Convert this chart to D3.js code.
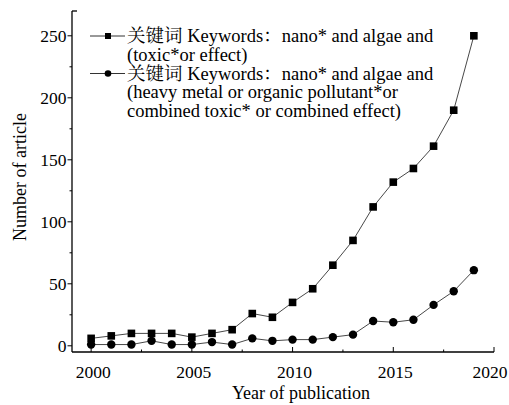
<!DOCTYPE html>
<html><head><meta charset="utf-8">
<script src="https://cdn.jsdelivr.net/npm/d3@7"></script>
<style>
html,body{margin:0;padding:0;background:#fff;}
</style></head>
<body><svg id="c" width="509" height="405"></svg>
<script>
const years = [2000,2001,2002,2003,2004,2005,2006,2007,2008,2009,2010,2011,2012,2013,2014,2015,2016,2017,2018,2019];
const series1 = [6,8,10,10,10,7,10,13,26,23,35,46,65,85,112,132,143,161,190,250];
const series2 = [1,1,1,4,1,1,3,1,6,4,5,5,7,9,20,19,21,33,44,61];
const yTicks = [0,50,100,150,200,250];
const xTicks = [2000,2005,2010,2015,2020];
const legendLines1 = ["关键词 Keywords：nano* and algae and","(toxic*or effect)"];
const legendLines2 = ["关键词 Keywords：nano* and algae and","(heavy metal or organic pollutant*or","combined toxic* or combined effect)"];

const FONT = "Liberation Serif, Noto Serif CJK SC, serif";
const svg = d3.select("#c");
const L=72, R=494, T=11, B=352;
const x = d3.scaleLinear().domain([1999.05,2020]).range([L,R]);
const y = d3.scaleLinear().domain([-5,270]).range([B,T]);

function txt(sel){ return sel.append("text").attr("font-family",FONT); }

// axes spines
svg.append("line").attr("x1",L).attr("x2",L).attr("y1",T).attr("y2",B).attr("stroke","#000").attr("stroke-width",1.3);
svg.append("line").attr("x1",L).attr("x2",R).attr("y1",B).attr("y2",B).attr("stroke","#000").attr("stroke-width",1.3);
svg.append("line").attr("x1",L).attr("x2",L+5).attr("y1",T).attr("y2",T).attr("stroke","#000").attr("stroke-width",1.3);

// y ticks (outward)
const yMinor = d3.range(25,270,50);
svg.selectAll(".ymin").data(yMinor).enter().append("line")
  .attr("x1",L-2.5).attr("x2",L).attr("y1",d=>y(d)).attr("y2",d=>y(d)).attr("stroke","#000");
svg.selectAll(".ymaj").data(yTicks).enter().append("line")
  .attr("x1",L-4.5).attr("x2",L).attr("y1",d=>y(d)).attr("y2",d=>y(d)).attr("stroke","#000");
svg.selectAll(".ylab").data(yTicks).enter().append("text").attr("font-family",FONT)
  .attr("x",L-5.5).attr("y",d=>y(d)+6).attr("text-anchor","end").attr("font-size",17.5).text(d=>d);

// x ticks (inward)
const xMinor = [2002.5,2007.5,2012.5,2017.5];
svg.selectAll(".xmin").data(xMinor).enter().append("line")
  .attr("x1",d=>x(d)).attr("x2",d=>x(d)).attr("y1",B).attr("y2",B-2.5).attr("stroke","#000");
svg.selectAll(".xmaj").data(xTicks).enter().append("line")
  .attr("x1",d=>x(d)).attr("x2",d=>x(d)).attr("y1",B).attr("y2",B-5).attr("stroke","#000");
svg.selectAll(".xlab").data(xTicks).enter().append("text").attr("font-family",FONT)
  .attr("x",(d,i)=>x(d)+(i===xTicks.length-1?-4:2)).attr("y",378).attr("text-anchor","middle").attr("font-size",17.5).text(d=>d);

// titles
txt(svg).attr("x",301).attr("y",399).attr("text-anchor","middle").attr("font-size",18).text("Year of publication");
txt(svg).attr("transform","translate(26,177) rotate(-90)").attr("text-anchor","middle").attr("font-size",18).text("Number of article");

// lines
const line = d3.line().x((d,i)=>x(years[i])).y(d=>y(d));
svg.append("path").attr("d",line(series1)).attr("fill","none").attr("stroke","#333").attr("stroke-width",0.9);
svg.append("path").attr("d",line(series2)).attr("fill","none").attr("stroke","#333").attr("stroke-width",0.9);

// markers
svg.selectAll(".sq").data(series1).enter().append("rect")
  .attr("x",(d,i)=>x(years[i])-3.8).attr("y",d=>y(d)-3.8).attr("width",7.6).attr("height",7.6).attr("fill","#000");
svg.selectAll(".ci").data(series2).enter().append("circle")
  .attr("cx",(d,i)=>x(years[i])).attr("cy",d=>y(d)).attr("r",4.2).attr("fill","#000");

// legend
const lg = svg.append("g");
const ly1 = 36, ly2 = 73.5, lh = 18.5;
lg.append("line").attr("x1",90).attr("x2",125).attr("y1",ly1).attr("y2",ly1).attr("stroke","#333");
lg.append("rect").attr("x",108-3).attr("y",ly1-3).attr("width",6).attr("height",6).attr("fill","#000");
lg.append("line").attr("x1",90).attr("x2",125).attr("y1",ly2).attr("y2",ly2).attr("stroke","#333");
lg.append("circle").attr("cx",108).attr("cy",ly2).attr("r",3.3).attr("fill","#000");
legendLines1.forEach((t,i)=>txt(lg).attr("x",127).attr("y",ly1+6+i*lh).attr("font-size",18.5).text(t));
legendLines2.forEach((t,i)=>txt(lg).attr("x",127).attr("y",ly2+6+i*lh).attr("font-size",18.5).text(t));
</script></body></html>
